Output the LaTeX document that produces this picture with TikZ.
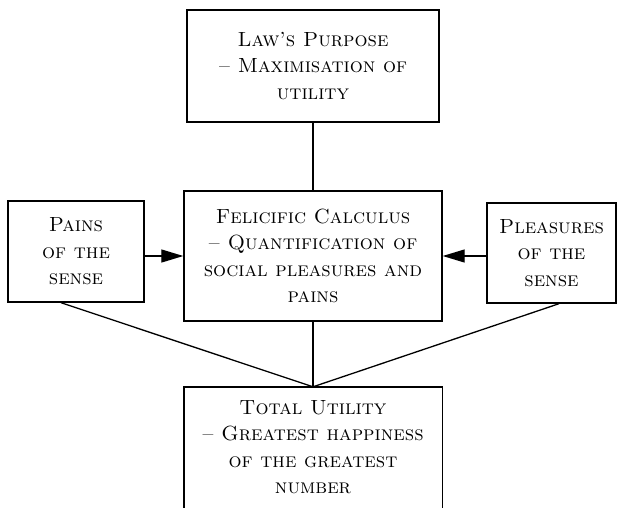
\documentclass[tikz,border=0pt]{standalone}
\usetikzlibrary{arrows.meta,calc}
\begin{document}
\begin{tikzpicture}[x=1pt,y=-1pt,
  box/.style={draw,line width=1.4pt,rectangle,align=center,inner sep=0pt,
    font=\fontsize{20.5}{26.5}\selectfont\scshape},
  plain/.style={rectangle,align=center,inner sep=0pt,
    font=\fontsize{20.5}{26.5}\selectfont\scshape},
  conn/.style={line width=1.3pt},
  arr/.style={line width=1.3pt,-{Triangle[length=22pt,width=13pt]}}]
\useasboundingbox (0,0) rectangle (621,508);
\clip (0,0) rectangle (621,508);
\node[box,minimum width=252pt,minimum height=112pt] (top) at (313,66)
  {Law’s Purpose\\ – Maximisation of\\ utility};
\node[box,minimum width=258pt,minimum height=130pt] (mid) at (313,256)
  {Felicific Calculus\\ – Quantification of\\ social pleasures and\\ pains};
\node[box,minimum width=136pt,minimum height=101pt] (pains) at (76,251.5)
  {Pains\\ of the\\ sense};
\node[box,minimum width=129pt,minimum height=100pt] (pleas) at (551.5,253)
  {Pleasures\\ of the\\ sense};
\node[plain,minimum width=258pt,minimum height=120pt] (bot) at (313,447)
  {Total Utility\\ – Greatest happiness\\ of the greatest\\ number};
\draw[line width=1.4pt] ($(bot.south west)+(0,30)$) -- (bot.north west) -- (bot.north east) -- ($(bot.south east)+(0,30)$);
\draw[conn] (top.south) -- (mid.north);
\draw[conn] (mid.south) -- (bot.north);
\draw[arr] (pains.east |- mid) -- (mid.west);
\draw[arr] (pleas.west |- mid) -- (mid.east);
\draw[conn] ($(pains.south)+(-15,0)$) -- (bot.north);
\draw[conn] ($(pleas.south)+(7.5,0)$) -- (bot.north);
\end{tikzpicture}
\end{document}
